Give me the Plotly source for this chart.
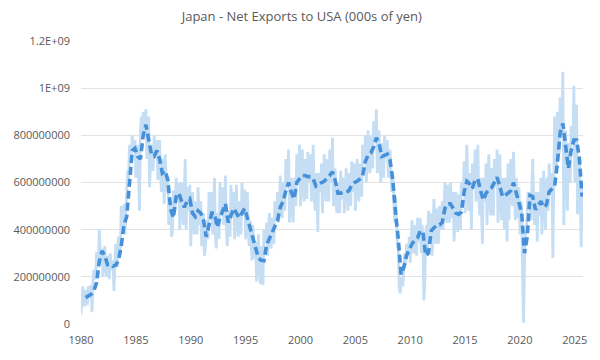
import pandas as pd
import plotly.graph_objects as go

# Monthly net exports to USA, in millions (value x 1,000,000 = 000s of yen)
raw_net_exports_m = [
    40, 115, 160, 110, 75, 145, 130, 80, 160, 130, 125, 165,        # 1980
    50, 170, 230, 200, 190, 300, 300, 240, 400, 310, 270, 320,      # 1981
    200, 270, 330, 240, 200, 290, 260, 190, 300, 250, 230, 270,     # 1982
    140, 250, 340, 280, 240, 370, 360, 300, 500, 440, 410, 510,     # 1983
    380, 470, 560, 650, 610, 760, 730, 680, 800, 760, 730, 780,     # 1984
    620, 700, 760, 640, 480, 820, 880, 780, 900, 840, 800, 910,     # 1985
    700, 760, 880, 580, 660, 760, 720, 650, 800, 720, 700, 780,     # 1986
    610, 700, 780, 640, 560, 700, 680, 510, 720, 640, 560, 620,     # 1987
    420, 470, 520, 370, 390, 560, 560, 480, 620, 560, 520, 600,     # 1988
    400, 520, 600, 480, 420, 560, 700, 400, 580, 540, 480, 590,     # 1989
    330, 460, 560, 430, 380, 520, 500, 380, 580, 480, 420, 520,     # 1990
    330, 400, 470, 290, 320, 420, 440, 360, 560, 470, 440, 560,     # 1991
    380, 460, 620, 380, 320, 470, 460, 360, 600, 500, 460, 580,     # 1992
    420, 520, 630, 400, 330, 470, 480, 370, 590, 500, 450, 560,     # 1993
    360, 470, 590, 430, 370, 520, 480, 380, 600, 500, 460, 570,     # 1994
    360, 450, 560, 400, 330, 440, 380, 270, 420, 340, 280, 350,     # 1995
    180, 260, 380, 250, 170, 330, 300, 165, 400, 360, 340, 430,     # 1996
    290, 380, 470, 360, 320, 450, 440, 340, 520, 460, 440, 560,     # 1997
    430, 520, 630, 500, 450, 600, 580, 480, 700, 620, 580, 740,     # 1998
    430, 520, 620, 490, 430, 600, 620, 500, 720, 640, 600, 760,     # 1999
    500, 620, 740, 600, 520, 700, 660, 530, 730, 640, 600, 720,     # 2000
    520, 640, 760, 560, 480, 640, 560, 390, 640, 600, 560, 680,     # 2001
    470, 600, 720, 600, 520, 700, 640, 520, 740, 660, 600, 790,     # 2002
    500, 590, 660, 520, 470, 600, 580, 470, 650, 570, 530, 620,     # 2003
    470, 560, 660, 560, 480, 640, 630, 500, 690, 620, 560, 680,     # 2004
    480, 600, 700, 580, 520, 680, 660, 540, 760, 720, 700, 800,     # 2005
    600, 720, 820, 700, 640, 800, 780, 660, 860, 800, 780, 910,     # 2006
    640, 740, 820, 680, 600, 760, 760, 620, 800, 740, 700, 780,     # 2007
    620, 680, 740, 640, 560, 640, 560, 430, 540, 440, 330, 320,     # 2008
    150, 130, 180, 200, 160, 280, 300, 250, 340, 310, 290, 370,     # 2009
    260, 340, 440, 340, 300, 420, 400, 290, 450, 380, 350, 450,     # 2010
    300, 420, 370, 100, 170, 380, 420, 320, 480, 400, 380, 470,     # 2011
    290, 420, 530, 400, 340, 490, 450, 340, 500, 420, 400, 520,     # 2012
    400, 500, 600, 500, 430, 590, 560, 430, 600, 510, 450, 560,     # 2013
    350, 440, 560, 460, 390, 550, 500, 400, 600, 590, 560, 690,     # 2014
    470, 600, 760, 600, 480, 640, 600, 400, 680, 640, 600, 740,     # 2015
    520, 620, 760, 560, 460, 620, 520, 340, 620, 560, 520, 680,     # 2016
    420, 600, 720, 560, 460, 660, 620, 460, 700, 620, 580, 740,     # 2017
    430, 560, 720, 540, 440, 620, 560, 400, 620, 560, 350, 680,     # 2018
    440, 580, 700, 600, 500, 730, 600, 440, 620, 500, 450, 580,     # 2019
    380, 520, 500, 200, 5, 250, 380, 400, 520, 560, 520, 560,       # 2020
    440, 560, 700, 520, 420, 560, 520, 350, 560, 500, 460, 620,     # 2021
    380, 520, 650, 500, 400, 600, 620, 480, 680, 600, 560, 640,     # 2022
    280, 580, 880, 720, 640, 900, 880, 720, 960, 880, 850, 1070,    # 2023
    420, 640, 820, 660, 480, 760, 760, 600, 840, 800, 760, 1010,    # 2024
    600, 760, 930, 465, 620, 700, 560, 325, 600, 520,               # 2025
]

# Moving average (dashed), read quarterly starting Jun 1980
moving_avg_m = [
    112, 118, 126,            # 1980 Jun, Sep, Dec
    140, 175, 265, 310,       # 1981 Mar, Jun, Sep, Dec
    290, 252, 255, 245,       # 1982
    250, 270, 330, 420,       # 1983
    455, 610, 735, 745,       # 1984
    710, 700, 800, 845,       # 1985
    790, 720, 712, 735,       # 1986
    700, 640, 650, 610,       # 1987
    490, 450, 540, 555,       # 1988
    520, 495, 520, 530,       # 1989
    470, 455, 480, 470,       # 1990
    440, 370, 420, 470,       # 1991
    470, 410, 450, 480,       # 1992
    510, 430, 460, 490,       # 1993
    470, 450, 470, 490,       # 1994
    450, 410, 370, 330,       # 1995
    280, 270, 268, 335,       # 1996
    360, 385, 410, 440,       # 1997
    495, 520, 565, 600,       # 1998
    560, 530, 600, 615,       # 1999
    630, 630, 625, 625,       # 2000
    615, 585, 595, 600,       # 2001
    605, 615, 630, 645,       # 2002
    610, 555, 555, 560,       # 2003
    560, 565, 590, 600,       # 2004
    605, 615, 630, 690,       # 2005
    715, 725, 750, 790,       # 2006
    765, 710, 715, 720,       # 2007
    695, 610, 470, 360,       # 2008
    210, 240, 290, 320,       # 2009
    340, 355, 365, 395,       # 2010
    390, 290, 300, 395,       # 2011
    410, 420, 420, 430,       # 2012
    490, 510, 510, 490,       # 2013
    470, 465, 475, 560,       # 2014
    605, 595, 575, 610,       # 2015
    615, 565, 525, 555,       # 2016
    570, 578, 600, 622,       # 2017
    585, 540, 545, 555,       # 2018
    565, 600, 560, 510,       # 2019
    470, 300, 370, 545,       # 2020
    540, 485, 505, 520,       # 2021
    495, 505, 560, 575,       # 2022
    585, 680, 810, 850,       # 2023
    740, 660, 735, 780,       # 2024
    780, 705, 540,            # 2025 Mar, Jun, Sep
]

y_tick_values = [0, 200000000, 400000000, 600000000, 800000000, 1000000000, 1200000000]
y_tick_labels = ["0", "200000000", "400000000", "600000000", "800000000", "1E+09", "1.2E+09"]

SCALE = 1_000_000
raw_dates = pd.date_range("1980-01-01", periods=len(raw_net_exports_m), freq="MS")
ma_dates = pd.date_range("1980-06-01", periods=len(moving_avg_m), freq="3MS")

fig = go.Figure()
fig.add_trace(go.Scatter(
    x=raw_dates, y=[v * SCALE for v in raw_net_exports_m],
    mode="lines", line=dict(color="rgb(197,222,244)", width=2.8),
    hoverinfo="skip", showlegend=False,
))
fig.add_trace(go.Scatter(
    x=ma_dates, y=[v * SCALE for v in moving_avg_m],
    mode="lines", line=dict(color="#4690DA", width=3.6, dash="8px,4px"),
    hoverinfo="skip", showlegend=False,
))

font_family = "Open Sans, Liberation Sans, sans-serif"
# Page body has an 8px default margin; figure sized so it fits the 600x360 window
fig.update_layout(
    width=584, height=344,
    margin=dict(l=69, r=5, t=33, b=25),
    paper_bgcolor="white", plot_bgcolor="white",
    font=dict(family=font_family, size=11, color="#595959"),
    title=dict(text="Japan - Net Exports to USA (000s of yen)",
               x=0.503, xanchor="center", y=0.975, yanchor="middle",
               font=dict(size=13, color="#595959", family=font_family)),
    showlegend=False,
)
fig.update_xaxes(
    range=[raw_dates[0], raw_dates[-1]],
    tick0="1980-01-01", dtick="M60", tickformat="%Y",
    showgrid=False, zeroline=False, showline=False,
    ticks="", ticklabelstandoff=8,
    tickfont=dict(size=11, color="#595959"),
)
fig.update_yaxes(
    range=[0, 1.2e9],
    tickvals=y_tick_values, ticktext=y_tick_labels,
    showgrid=True, gridcolor="#E3E3E3", gridwidth=1,
    zeroline=False, showline=False, ticks="",
    ticklabelstandoff=10,
    tickfont=dict(size=11, color="#595959"),
)

fig.write_html("out.html")
